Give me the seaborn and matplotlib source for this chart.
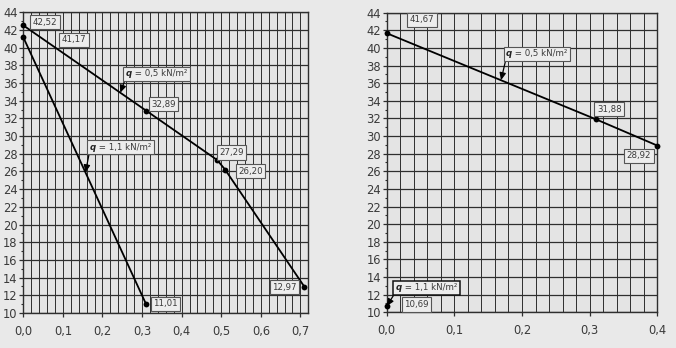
import numpy as np
import pandas as pd
import matplotlib
matplotlib.use("Agg")
import matplotlib.pyplot as plt
import seaborn as sns
from matplotlib.offsetbox import AnnotationBbox, HPacker, TextArea
from matplotlib.ticker import FuncFormatter, MultipleLocator

# Left chart: two load cases
left_q05_x = [0.0, 0.31, 0.49, 0.51, 0.71]
left_q05_y = [42.52, 32.89, 27.29, 26.20, 12.97]
left_q11_x = [0.0, 0.31]
left_q11_y = [41.17, 11.01]

# Right chart: two load cases
right_q05_x = [0.0, 0.31, 0.40]
right_q05_y = [41.67, 31.88, 28.92]
right_q11_x = [0.0]
right_q11_y = [10.69]

load_labels = ["0,5", "1,1"]
y_ticks = list(range(10, 45, 2))
left_x_ticks = [0.0, 0.1, 0.2, 0.3, 0.4, 0.5, 0.6, 0.7]
right_x_ticks = [0.0, 0.1, 0.2, 0.3, 0.4]

sns.set_theme(style="ticks")
BG_FIG = "#e9e9e9"
BG_AX = "#e4e4e4"
GRID = "#2e2e2e"
TXT = "#3a3a3a"
LABEL_FONT = ["Liberation Sans Narrow", "DejaVu Sans"]
plt.rcParams["font.family"] = ["DejaVu Sans"]

fig = plt.figure(figsize=(6.76, 3.48), dpi=100, facecolor=BG_FIG)
ax_l = fig.add_axes([0.0345, 0.1006, 0.4216, 0.864])
ax_r = fig.add_axes([0.572, 0.1026, 0.4003, 0.861])


def comma(v, decimals):
    return f"{v:.{decimals}f}".replace(".", ",")


def style_axes(ax, xmax, xticks):
    ax.set_facecolor(BG_AX)
    ax.set_xlim(0, xmax)
    ax.set_ylim(10, 44)
    ax.set_xticks(xticks)
    ax.set_yticks(y_ticks)
    ax.xaxis.set_minor_locator(MultipleLocator(0.02))
    ax.yaxis.set_minor_locator(MultipleLocator(1))
    ax.xaxis.set_major_formatter(FuncFormatter(lambda v, p: comma(v, 1)))
    ax.yaxis.set_major_formatter(FuncFormatter(lambda v, p: comma(v, 0)))
    ax.grid(axis="x", which="both", color=GRID, lw=0.7)
    ax.grid(axis="y", which="major", color=GRID, lw=0.9)
    ax.set_axisbelow(True)
    ax.tick_params(axis="x", which="major", length=2.8, width=0.9, color=GRID,
                   pad=5.5, labelsize=8.3, labelcolor=TXT)
    ax.tick_params(axis="y", which="major", length=2.8, width=0.9, color=GRID,
                   pad=1.3, labelsize=8.3, labelcolor=TXT)
    ax.tick_params(axis="x", which="minor", length=0)
    ax.tick_params(axis="y", which="minor", length=1.8, width=0.8, color=GRID)
    for s in ax.spines.values():
        s.set_color(GRID)
        s.set_linewidth(1.0)


def draw_series(ax, xs, ys):
    df = pd.DataFrame({"x": xs, "y": ys})
    n_before = len(ax.lines)
    sns.lineplot(data=df, x="x", y="y", ax=ax, color="black", lw=1.3,
                 marker="o", markersize=4.2, markeredgewidth=0,
                 sort=False, estimator=None, zorder=4)
    for ln in ax.lines[n_before:]:
        ln.set_clip_on(False)
    ax.set_xlabel("")
    ax.set_ylabel("")


def value_label(ax, value, pos):
    ax.text(pos[0], pos[1], comma(value, 2), ha="center", va="center",
            fontsize=6.2, family=LABEL_FONT, color=TXT, zorder=6,
            bbox=dict(boxstyle="square,pad=0.3", fc="#ededed", ec="#555555", lw=0.8))


def load_box(ax, load, target, box_pos, edge="#555555", edge_lw=0.8):
    t1 = TextArea("q", textprops=dict(fontsize=6.2, fontweight="bold", fontstyle="italic",
                                      color="#222222", family=LABEL_FONT))
    t2 = TextArea(f" = {load} kN/m²", textprops=dict(fontsize=6.2, color=TXT, family=LABEL_FONT))
    pack = HPacker(children=[t1, t2], pad=0, sep=0, align="baseline")
    ab = AnnotationBbox(pack, target, xybox=box_pos, xycoords="data", boxcoords="data",
                        box_alignment=(0.5, 0.5), pad=0.3, fontsize=6.2,
                        bboxprops=dict(boxstyle="square,pad=0.3", fc="#ededed", ec=edge, lw=edge_lw),
                        arrowprops=dict(arrowstyle="-|>,head_length=0.5,head_width=0.22",
                                        color="black", lw=0.9, relpos=(0, 0),
                                        shrinkA=0, shrinkB=0),
                        zorder=6)
    ax.add_artist(ab)


# ---- left chart ----
style_axes(ax_l, 0.72, left_x_ticks)
draw_series(ax_l, left_q05_x, left_q05_y)
draw_series(ax_l, left_q11_x, left_q11_y)

left_label_pos = [(0.055, 42.9), (0.354, 33.63), (0.526, 28.14), (0.574, 26.03), (0.660, 12.9)]
for v, p in zip(left_q05_y, left_label_pos):
    value_label(ax_l, v, p)
for v, p in zip(left_q11_y, [(0.128, 40.87), (0.359, 11.04)]):
    value_label(ax_l, v, p)

xa = 0.245
load_box(ax_l, load_labels[0], (xa, np.interp(xa, left_q05_x, left_q05_y)), (0.336, 37.05))
xb = 0.157
load_box(ax_l, load_labels[1], (xb, np.interp(xb, left_q11_x, left_q11_y)), (0.245, 28.76))

# ---- right chart ----
style_axes(ax_r, 0.40, right_x_ticks)
draw_series(ax_r, right_q05_x, right_q05_y)
draw_series(ax_r, right_q11_x, right_q11_y)

right_label_pos = [(0.0517, 43.17), (0.329, 33.03), (0.3725, 27.77)]
for v, p in zip(right_q05_y, right_label_pos):
    value_label(ax_r, v, p)
value_label(ax_r, right_q11_y[0], (0.0443, 10.88))

xc = 0.169
load_box(ax_r, load_labels[0], (xc, np.interp(xc, right_q05_x, right_q05_y)), (0.222, 39.33))
load_box(ax_r, load_labels[1], (right_q11_x[0], right_q11_y[0]), (0.0584, 12.77),
         edge="#111111", edge_lw=1.1)

fig.savefig("out.png", dpi=100, facecolor=BG_FIG)
